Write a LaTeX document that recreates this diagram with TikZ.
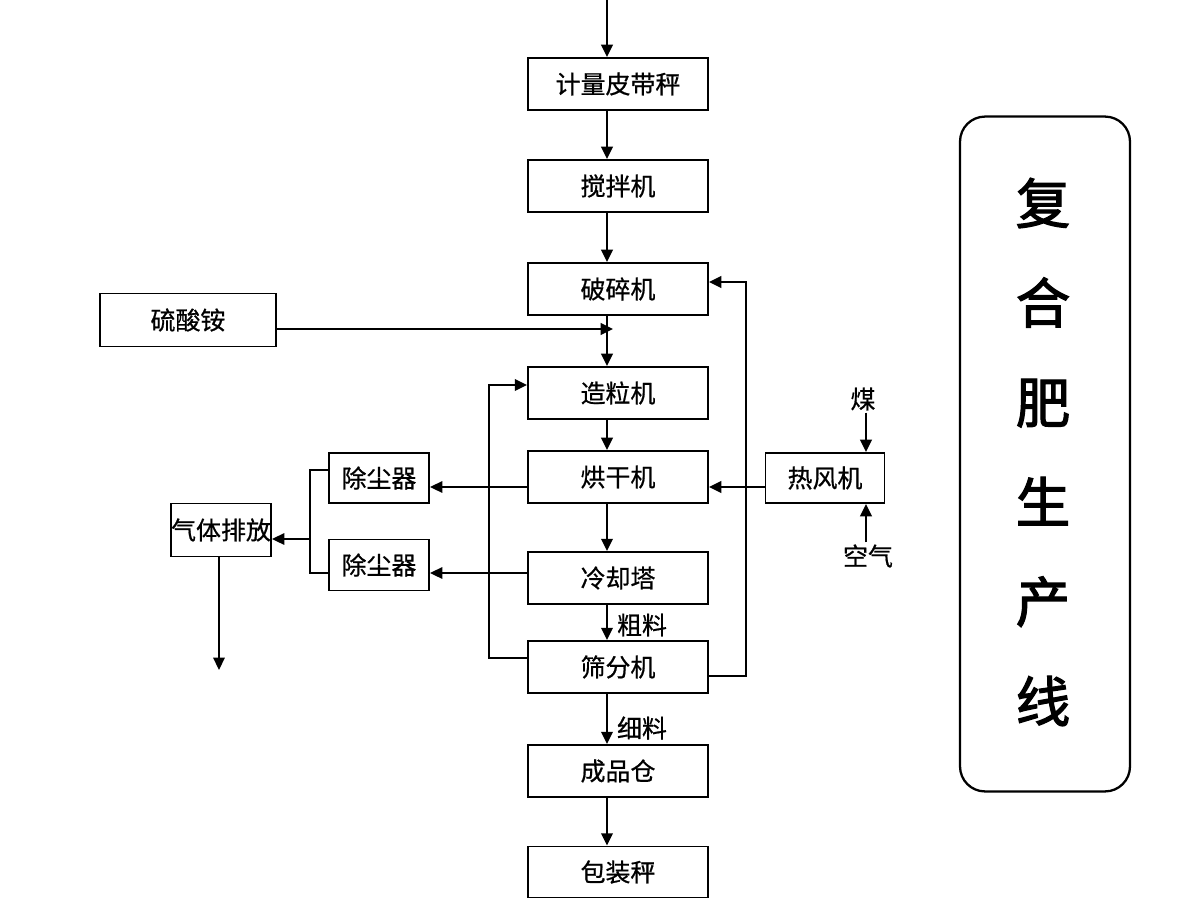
\documentclass[tikz,border=0pt]{standalone}
\usepackage{fontspec}
\setmainfont{Noto Sans CJK SC}
\newfontfamily\medfont[FakeBold=0.7]{Noto Sans CJK SC}
\newfontfamily\titlefont[FakeBold=2.2]{Noto Sans CJK SC}
\usetikzlibrary{arrows.meta,calc}
\begin{document}
\begin{tikzpicture}[x=0.02cm,y=-0.02cm,
  txt/.style={font=\medfont\fontsize{14.2pt}{17pt}\selectfont},
  box/.style={draw,line width=1.1pt,minimum width=3.6cm,minimum height=1.04cm,inner sep=0pt,txt},
  sbox/.style={draw,line width=1.1pt,minimum width=2cm,minimum height=1.0cm,inner sep=0pt,txt},
  lbl/.style={inner sep=1pt,txt},
  flow/.style={line width=1.3pt,-{Triangle[length=7pt,width=6.5pt]}},
  thinflow/.style={line width=0.9pt,-{Triangle[length=7pt,width=6.5pt]}},
  thinline/.style={line width=0.8pt}
]
\useasboundingbox (0,0) rectangle (1200,900);
\coordinate (col) at (607,0);
\coordinate (top) at (607,0);

\node[box] (n1) at (618,84) {计量皮带秤};
\node[box] (n2) at (618,186) {搅拌机};
\node[box] (n3) at (618,289) {破碎机};
\node[box] (n4) at (618,393) {造粒机};
\node[box] (n5) at (618,477) {烘干机};
\node[box] (n6) at (618,578) {冷却塔};
\node[box] (n7) at (618,667) {筛分机};
\node[box] (n8) at (618,771) {成品仓};
\node[box,minimum height=1.02cm] (n9) at (618,872) {包装秤};

\node[box,minimum width=3.52cm,minimum height=1.06cm] (s) at (188,320) {硫酸铵};
\node[sbox,minimum width=2.38cm] (h) at (825,478) {热风机};
\node[sbox] (d1) at (379,478) {除尘器};
\node[sbox,minimum height=1.02cm] (d2) at (379,565) {除尘器};
\node[sbox,minimum height=1.06cm] (g) at (221,530) {气体排放};

\node[lbl] (coal) at (863,399) {煤};
\node[lbl] (air) at (868,556) {空气};
\node[lbl] (cu) at (642,625) {粗料};
\node[lbl] (xi) at (642,728) {细料};

\node[draw,line width=1.3pt,rounded corners=0.5cm,minimum width=3.4cm,minimum height=13.5cm] (tb) at (1045,454) {};
\node[align=center,font=\titlefont\fontsize{31pt}{56.7pt}\selectfont] (tt) at (1043,452) {复\\合\\肥\\生\\产\\线};

% main flow
\draw[flow] (top) -- (n1.north -| col);
\draw[flow] (n1.south -| col) -- (n2.north -| col);
\draw[flow] (n2.south -| col) -- (n3.north -| col);
\draw[flow] (n3.south -| col) -- (n4.north -| col);
\draw[flow] (n4.south -| col) -- (n5.north -| col);
\draw[flow] (n5.south -| col) -- (n6.north -| col);
\draw[flow] (n6.south -| col) -- (n7.north -| col);
\draw[flow] (n7.south -| col) -- (n8.north -| col);
\draw[flow] (n8.south -| col) -- (n9.north -| col);

% ammonium sulfate
\coordinate (sj) at (613,329);
\draw[flow] (s.east |- sj) -- (sj);

% feedback left
\coordinate (fl) at (489,385);
\draw[flow] ([yshift=0.18cm]n7.west) -| (fl) -- (fl -| n4.west);
% feedback right
\coordinate (fr) at (746,282);
\draw[flow] ([yshift=-0.18cm]n7.east) -| (fr) -- (fr -| n3.east);

% hot air
\coordinate (hw) at ([yshift=-0.18cm]h.west);
\draw[flow] (hw) -- (hw -| n5.east);
\coordinate (cx) at (866,0);
\draw[flow] (coal.south -| cx) -- (h.north -| cx);
\draw[flow] (air.north -| cx) -- (h.south -| cx);

% dust
\coordinate (n5w) at ([yshift=-0.2cm]n5.west);
\draw[thinflow] (n5w) -- (n5w -| d1.east);
\coordinate (n6w) at ([yshift=0.1cm]n6.west);
\draw[thinflow] (n6w) -- (n6w -| d2.east);
\coordinate (m) at (310,539);
\draw[thinline] ([yshift=0.16cm]d1.west) -| (m) |- ([yshift=-0.16cm]d2.west);
\draw[thinflow] (m) -- (m -| g.east);
\coordinate (gend) at (219,670);
\draw[thinflow] (g.south -| gend) -- (gend);
\end{tikzpicture}
\end{document}
